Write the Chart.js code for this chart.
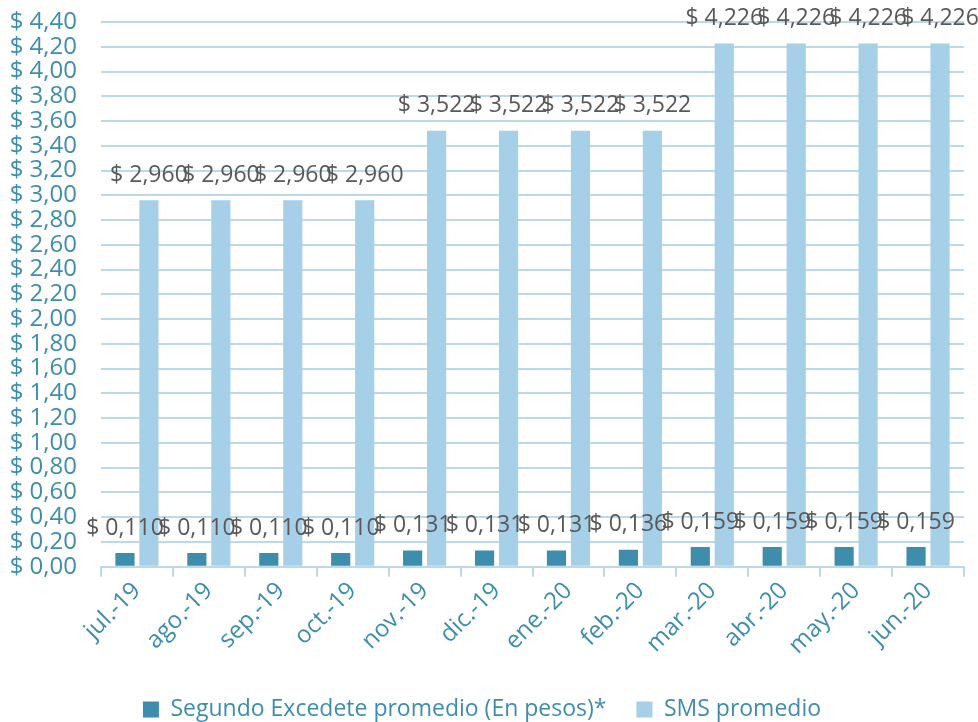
<!DOCTYPE html>
<html lang="es">
<head>
    <meta charset="UTF-8">
    <title>Segundo excedente y SMS promedio</title>
    <style>
        body { margin: 0; background: #fff; }
        canvas { display: block; }
    </style>
    <script src="https://cdn.jsdelivr.net/npm/chart.js"></script>
</head>
<body>
    <canvas id="grafico" width="978" height="722"></canvas>
    <script>
        const meses = ['jul.-19', 'ago.-19', 'sep.-19', 'oct.-19', 'nov.-19', 'dic.-19',
                       'ene.-20', 'feb.-20', 'mar.-20', 'abr.-20', 'may.-20', 'jun.-20'];
        const segundoExcedente = [0.110, 0.110, 0.110, 0.110, 0.131, 0.131, 0.131, 0.136, 0.159, 0.159, 0.159, 0.159];
        const smsPromedio = [2.960, 2.960, 2.960, 2.960, 3.522, 3.522, 3.522, 3.522, 4.226, 4.226, 4.226, 4.226];

        const azul = '#3F8DAD';
        const celeste = '#A5D0E8';
        const lineas = '#BCD9E9';
        const fuente = '"Open Sans", "DejaVu Sans", sans-serif';

        // etiquetas de valor encima de cada barra
        const etiquetas = {
            id: 'etiquetas',
            afterDatasetsDraw(chart) {
                const ctx = chart.ctx;
                ctx.save();
                ctx.font = '23px ' + fuente;
                ctx.fillStyle = '#595959';
                ctx.textAlign = 'center';
                ctx.textBaseline = 'middle';
                chart.data.datasets.forEach((ds, i) => {
                    chart.getDatasetMeta(i).data.forEach((bar, j) => {
                        const txt = '$ ' + ds.data[j].toFixed(3).replace('.', ',');
                        ctx.fillText(txt, bar.x, bar.y - 25);
                    });
                });
                ctx.restore();
            }
        };

        new Chart(document.getElementById('grafico'), {
            type: 'bar',
            data: {
                labels: meses,
                datasets: [
                    { label: 'Segundo Excedete promedio (En pesos)*', data: segundoExcedente, backgroundColor: azul },
                    { label: 'SMS promedio', data: smsPromedio, backgroundColor: celeste }
                ]
            },
            options: {
                responsive: false,
                animation: false,
                categoryPercentage: 0.667,
                barPercentage: 0.8,
                layout: { padding: { top: 22, right: 14, left: 0, bottom: -9 } },
                plugins: {
                    tooltip: { enabled: false },
                    legend: {
                        position: 'bottom',
                        labels: {
                            font: { family: fuente, size: 23 },
                            color: azul,
                            boxWidth: 16,
                            boxHeight: 16,
                            padding: 30
                        }
                    }
                },
                scales: {
                    x: {
                        afterFit: s => { s.height += 8; },
                        grid: { drawOnChartArea: false, color: lineas, lineWidth: 2, tickLength: 10 },
                        border: { color: lineas, width: 2 },
                        ticks: {
                            color: azul,
                            font: { family: fuente, size: 24 },
                            minRotation: 45,
                            maxRotation: 45,
                            padding: 0
                        }
                    },
                    y: {
                        min: 0,
                        max: 4.4,
                        afterFit: s => { s.width = 101; },
                        grid: { color: lineas, lineWidth: 2, tickLength: 22, tickColor: 'rgba(0,0,0,0)' },
                        border: { display: false },
                        ticks: {
                            stepSize: 0.2,
                            autoSkip: false,
                            color: azul,
                            padding: 2,
                            font: { family: fuente, size: 24 },
                            callback: v => '$ ' + v.toFixed(2).replace('.', ',')
                        }
                    }
                }
            },
            plugins: [etiquetas]
        });
    </script>
</body>
</html>
